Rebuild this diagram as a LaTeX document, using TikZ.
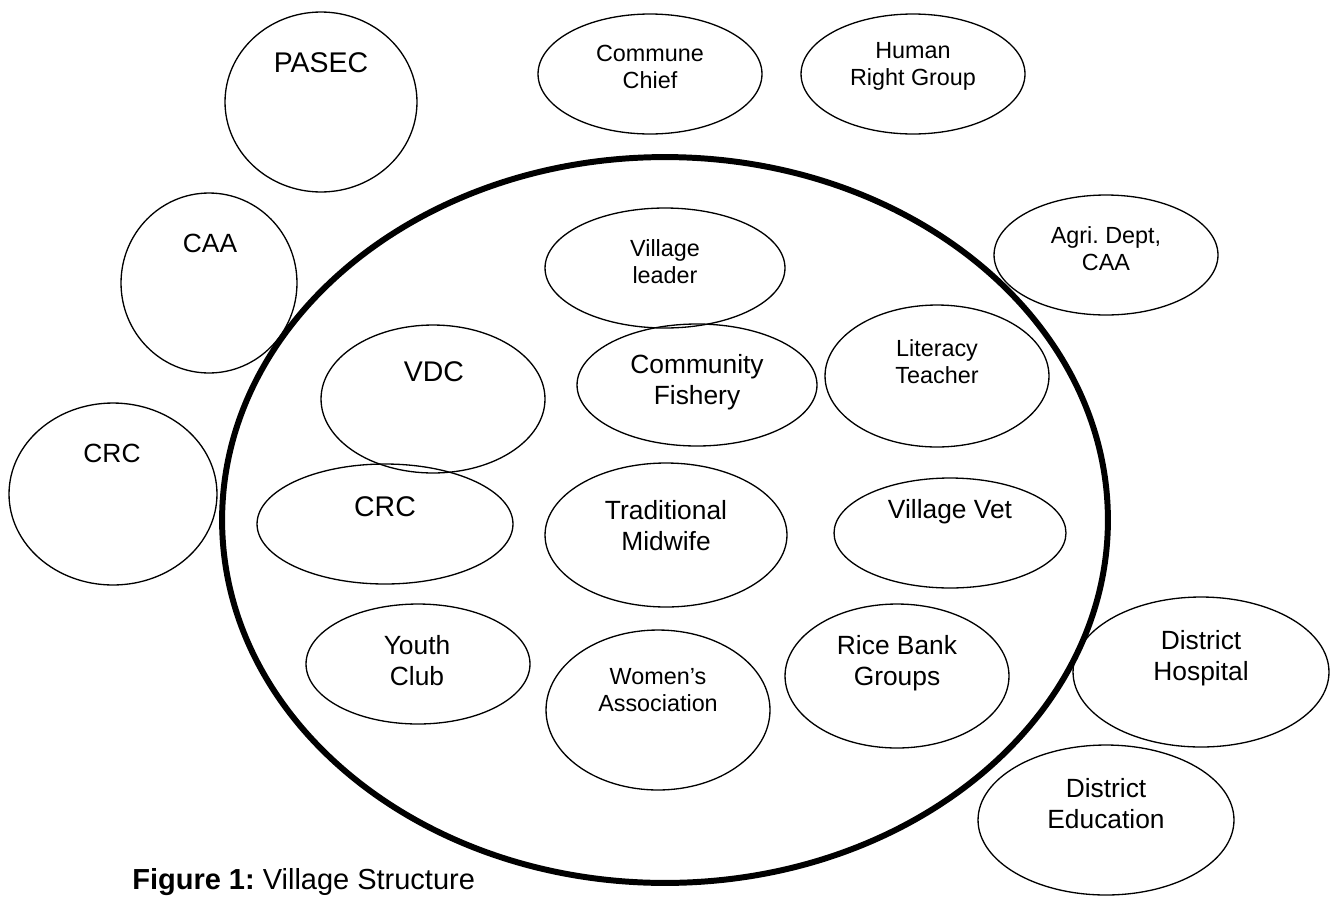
\documentclass[tikz,border=0pt]{standalone}
\usepackage{fontspec}
\setmainfont{Liberation Sans}
\frenchspacing
\usetikzlibrary{shapes.geometric}
\tikzset{
  org/.style={ellipse, draw=black, line width=0.75pt, inner sep=0pt},
  village/.style={ellipse, draw=black, line width=3.4pt, inner sep=0pt},
  lblS/.style={font=\fontsize{13.3}{15.4}\selectfont, align=center, inner sep=0pt},
  lblM/.style={font=\fontsize{15}{17.6}\selectfont, align=center, inner sep=0pt},
  lblL/.style={font=\fontsize{16.2}{18.5}\selectfont, align=center, inner sep=0pt},
}
\begin{document}
\begin{tikzpicture}[x=0.02cm, y=-0.02cm]
\useasboundingbox (0,0) rectangle (1331,896);

% Village boundary
\node[village, minimum width=17.72cm, minimum height=14.52cm] (village) at (665,520) {};

% Outside the village
\node[org, minimum width=3.84cm, minimum height=3.6cm] (pasec) at (321,102) {};
\node[lblL] (pasec-t) at (321,63) {PASEC};
\node[org, minimum width=4.48cm, minimum height=2.4cm] (commune) at (650,74) {};
\node[lblS] (commune-t) at (650,66.5) {Commune\\Chief};
\node[org, minimum width=4.48cm, minimum height=2.4cm] (human) at (913,74) {};
\node[lblS] (human-t) at (913,66.5) {Human\\Right Group};
\node[org, minimum width=3.52cm, minimum height=3.6cm] (caa) at (209,283) {};
\node[lblM] (caa-t) at (210,243) {CAA};
\node[org, minimum width=4.48cm, minimum height=2.4cm] (agri) at (1106,255) {};
\node[lblS] (agri-t) at (1106,248.5) {Agri. Dept,\\CAA};
\node[org, minimum width=4.16cm, minimum height=3.64cm] (crcout) at (113,494) {};
\node[lblM] (crcout-t) at (112,453) {CRC};
\node[org, minimum width=5.12cm, minimum height=3.0cm] (hospital) at (1201,672) {};
\node[lblM] (hospital-t) at (1201,658) {District\\Hospital};
\node[org, minimum width=5.12cm, minimum height=3.0cm] (education) at (1106,820) {};
\node[lblM] (education-t) at (1106,804) {District\\Education};

% Inside the village
\node[org, minimum width=4.8cm, minimum height=2.4cm] (vleader) at (665,268) {};
\node[lblS] (vleader-t) at (665,261.5) {Village\\leader};
\node[org, minimum width=4.48cm, minimum height=2.96cm] (vdc) at (433,399) {};
\node[lblL] (vdc-t) at (434,372) {VDC};
\node[org, minimum width=4.8cm, minimum height=2.44cm] (fishery) at (697,385) {};
\node[lblM] (fishery-t) at (697,382.5) {Community\\Fishery};
\node[org, minimum width=4.48cm, minimum height=2.84cm] (literacy) at (937,376) {};
\node[lblS] (literacy-t) at (937,361.5) {Literacy\\Teacher};
\node[org, minimum width=5.12cm, minimum height=2.4cm] (crcin) at (385,524) {};
\node[lblL] (crcin-t) at (385,507) {CRC};
\node[org, minimum width=4.84cm, minimum height=2.88cm] (midwife) at (666,535) {};
\node[lblM] (midwife-t) at (666,526) {Traditional\\Midwife};
\node[org, minimum width=4.64cm, minimum height=2.2cm] (vet) at (950,533) {};
\node[lblM] (vet-t) at (950,512) {Village Vet};
\node[org, minimum width=4.48cm, minimum height=2.4cm] (youth) at (418,664) {};
\node[lblM] (youth-t) at (417,660.5) {Youth\\Club};
\node[org, minimum width=4.48cm, minimum height=3.2cm] (women) at (658,710) {};
\node[lblS] (women-t) at (658,690.5) {Women’s\\Association};
\node[org, minimum width=4.48cm, minimum height=2.88cm] (rice) at (897,676) {};
\node[lblM] (rice-t) at (897,663) {Rice Bank\\Groups};

% Caption
\node[anchor=base west, inner sep=0pt, font=\fontsize{16.5}{19}\selectfont] (caption) at (132,889) {\textbf{Figure 1:} Village Structure};

\end{tikzpicture}
\end{document}
